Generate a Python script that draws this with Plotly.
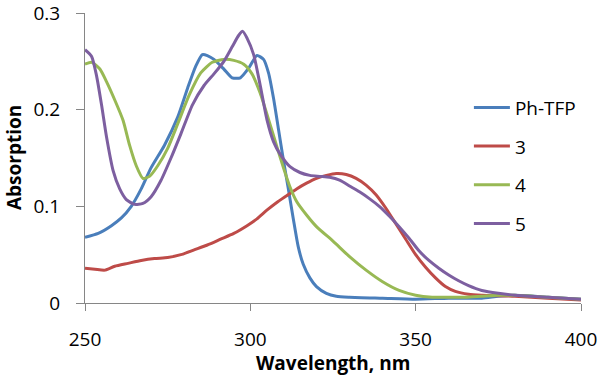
import plotly.graph_objects as go

# ---- data ----
wl_ph = [250, 254, 258, 261, 264, 267, 270, 274, 278, 281, 283.5, 285.5, 287, 289, 292, 294.5, 297,
         299.5, 302, 304, 305.5, 307, 308.5, 310, 311.5, 313, 314.5, 316, 318, 320, 323, 326, 330,
         340, 350, 360, 370, 375, 380, 390, 400]
ab_ph = [0.068, 0.072, 0.080, 0.088, 0.100, 0.118, 0.140, 0.163, 0.192, 0.222, 0.245, 0.257, 0.256,
         0.252, 0.242, 0.233, 0.233, 0.243, 0.256, 0.252, 0.238, 0.212, 0.180, 0.148, 0.118, 0.087,
         0.058, 0.040, 0.026, 0.017, 0.010, 0.007, 0.006, 0.005, 0.004, 0.005, 0.005, 0.007, 0.008,
         0.006, 0.004]

wl_3 = [250, 253, 256, 259, 263, 267, 271, 275, 279, 283, 287, 291, 295, 299, 302, 305, 308, 311,
        314, 317, 320, 323, 326, 329, 332, 335, 338, 341, 344, 347, 350, 353, 356, 359, 362, 366,
        370, 380, 390, 400]
ab_3 = [0.036, 0.035, 0.034, 0.038, 0.041, 0.044, 0.046, 0.047, 0.050, 0.055, 0.060, 0.066, 0.072,
        0.080, 0.087, 0.096, 0.104, 0.111, 0.118, 0.124, 0.129, 0.132, 0.134, 0.133, 0.129, 0.122,
        0.112, 0.098, 0.082, 0.066, 0.050, 0.037, 0.026, 0.017, 0.012, 0.009, 0.008, 0.007, 0.005,
        0.003]

wl_4 = [250, 252, 254.5, 256.5, 259, 261.5, 263.5, 265.5, 267.5, 269.5, 272, 275, 278, 281.5, 285,
        288.5, 292, 295, 298, 300.5, 303, 305.5, 308, 310, 312, 314, 317, 320, 325, 330, 335, 340,
        345, 350, 355, 360, 365, 370, 375, 380, 390, 400]
ab_4 = [0.247, 0.249, 0.242, 0.229, 0.210, 0.189, 0.163, 0.142, 0.129, 0.131, 0.142, 0.160, 0.185,
        0.215, 0.238, 0.249, 0.252, 0.251, 0.247, 0.237, 0.217, 0.190, 0.162, 0.140, 0.120, 0.105,
        0.091, 0.079, 0.064, 0.048, 0.034, 0.022, 0.013, 0.008, 0.006, 0.006, 0.006, 0.007, 0.008,
        0.008, 0.006, 0.004]

wl_5 = [250, 252, 253.5, 255, 256.5, 258.5, 260.5, 262.5, 265, 267.5, 270, 273, 276, 279, 282.5,
        286, 289, 292, 294.5, 296.5, 297.7, 299, 301, 303, 305, 307, 309, 312, 315, 318, 321, 324,
        327, 330, 333, 336, 339, 342, 345, 348, 351, 354, 357, 360, 363, 366, 370, 375, 380, 390, 400]
ab_5 = [0.262, 0.255, 0.235, 0.205, 0.172, 0.137, 0.118, 0.107, 0.102, 0.103, 0.110, 0.127, 0.150,
        0.175, 0.205, 0.225, 0.237, 0.250, 0.265, 0.277, 0.281, 0.274, 0.257, 0.225, 0.190, 0.167,
        0.154, 0.141, 0.135, 0.132, 0.131, 0.130, 0.127, 0.121, 0.115, 0.108, 0.100, 0.090, 0.079,
        0.067, 0.054, 0.044, 0.036, 0.029, 0.023, 0.018, 0.013, 0.010, 0.008, 0.006, 0.004]

series_names = ["Ph-TFP", "3", "4", "5"]
series_colors = ["#4A7EBB", "#BE4B48", "#98B954", "#7D5FA0"]

x_ticks = [250, 300, 350, 400]
y_ticks = [0, 0.1, 0.2, 0.3]
y_ticktext = ["0", "0.1", "0.2", "0.3"]
x_title = "Wavelength, nm"
y_title = "Absorption"

FONT = "Open Sans"
fig = go.Figure()
for i, (xs, ys) in enumerate([(wl_ph, ab_ph), (wl_3, ab_3), (wl_4, ab_4), (wl_5, ab_5)]):
    fig.add_trace(go.Scatter(
        x=xs, y=ys, mode="lines", name=series_names[i], legendgroup=series_names[i],
        line=dict(color=series_colors[i], width=3, shape="spline", smoothing=0.6),
    ))

fig.update_layout(
    width=605, height=378,
    margin=dict(l=85, r=24, t=13, b=75, autoexpand=False),
    plot_bgcolor="white", paper_bgcolor="white",
    font=dict(family=FONT, size=19, color="#000000"),
    legend=dict(
        x=0.774, xanchor="left", y=0.474, yanchor="middle",
        font=dict(family=FONT, size=19), tracegroupgap=11,
        bgcolor="rgba(0,0,0,0)", itemwidth=36,
    ),
    xaxis=dict(
        range=[250, 400], tickvals=x_ticks, showline=True, linecolor="#868686", linewidth=1,
        ticks="outside", ticklen=7, tickcolor="#868686", showgrid=False, zeroline=False,
        ticklabelstandoff=12, automargin=False, ticklabeloverflow="allow",
    ),
    yaxis=dict(
        range=[0, 0.3], tickvals=y_ticks, ticktext=y_ticktext, showline=True, linecolor="#868686",
        linewidth=1, ticks="outside", ticklen=8, tickcolor="#868686", showgrid=False,
        zeroline=False, ticklabelstandoff=12, automargin=False, ticklabeloverflow="allow",
    ),
    annotations=[
        dict(text="<b>" + x_title + "</b>", xref="paper", yref="paper", x=0.5, y=-0.207,
             xanchor="center", yanchor="middle", showarrow=False, font=dict(family=FONT, size=19)),
        dict(text="<b>" + y_title + "</b>", xref="paper", yref="paper", x=-0.143, y=0.5,
             xanchor="center", yanchor="middle", textangle=-90, showarrow=False,
             font=dict(family=FONT, size=19)),
    ],
)

# remove the browser's default 8px body margin so the figure sits at the page corner
fig.write_html("out.html", config={"displayModeBar": False},
               post_script="document.body.style.margin='0';")
